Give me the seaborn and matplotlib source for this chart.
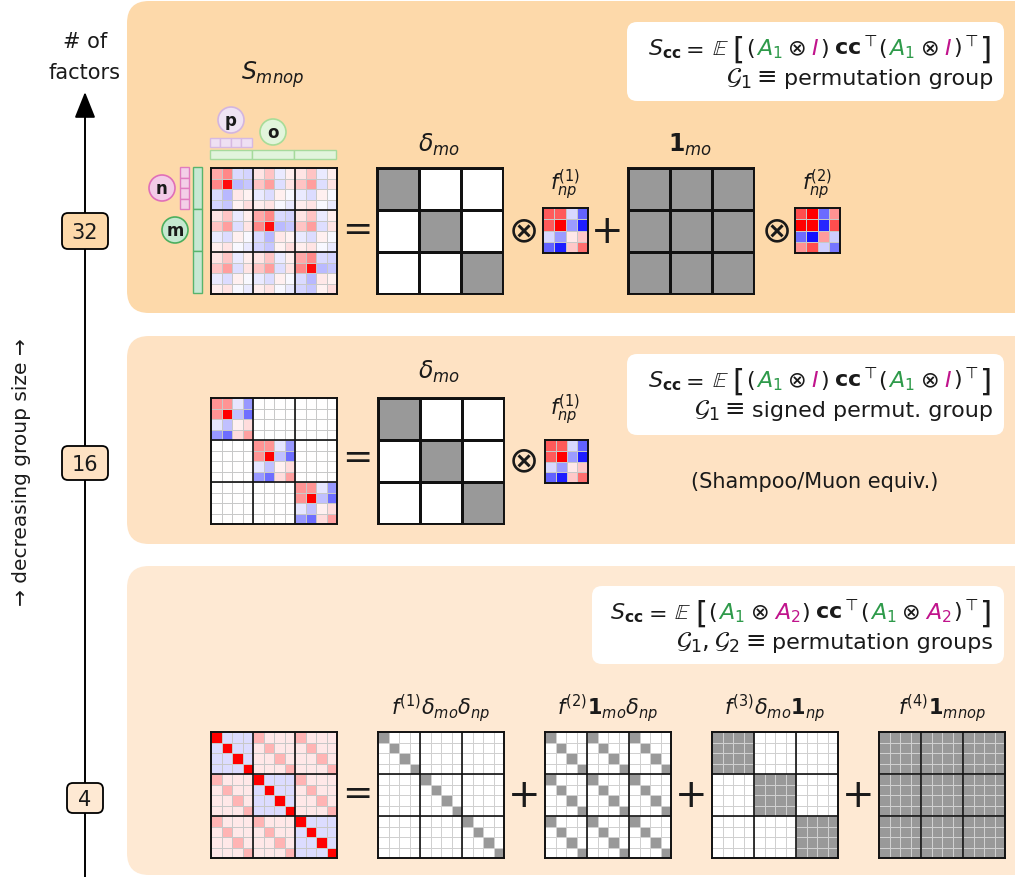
import numpy as np
import matplotlib
matplotlib.use("Agg")
import matplotlib.pyplot as plt
import seaborn as sns
from matplotlib.patches import FancyBboxPatch, Rectangle, Circle
from matplotlib.colors import ListedColormap

# ---- data -------------------------------------------------------------
delta_mo = [[1, 0, 0], [0, 1, 0], [0, 0, 1]]
ones_mo = [[1, 1, 1], [1, 1, 1], [1, 1, 1]]
delta_np = [[1, 0, 0, 0], [0, 1, 0, 0], [0, 0, 1, 0], [0, 0, 0, 1]]
ones_np = [[1, 1, 1, 1], [1, 1, 1, 1], [1, 1, 1, 1], [1, 1, 1, 1]]

# per-block factors f^(1)_np and f^(2)_np
f1_np = [[0.42, 0.42, -0.10, -0.40],
         [0.42, 1.00, -0.25, -0.57],
         [-0.10, -0.25, 0.06, 0.14],
         [-0.40, -0.57, 0.14, 0.37]]
f2_np = [[0.18, 0.40, -0.15, 0.11],
         [0.40, 0.66, -0.22, 0.18],
         [-0.15, -0.24, 0.10, -0.05],
         [0.11, 0.18, -0.05, -0.14]]

# scalar coefficients f^(1..4) of the 4-factor decomposition
f_coef = [0.94, 0.20, -0.23, 0.09]

factor_counts = ["32", "16", "4"]

# ---- figure -----------------------------------------------------------
sns.set_theme(style="white")
plt.rcParams["font.family"] = ["DejaVu Sans"]
plt.rcParams["mathtext.fontset"] = "dejavusans"

W, H = 1015, 878
fig = plt.figure(figsize=(W / 100, H / 100), dpi=100)
fig.patch.set_facecolor("white")
bg = fig.add_axes([0, 0, 1, 1])
bg.set_xlim(0, W)
bg.set_ylim(H, 0)
bg.axis("off")

INK = "#1a1a1a"
GREEN = "#2e9a4a"
MAG = "#c0148c"
P1, P2, P3 = "#fdd9aa", "#fee2c3", "#fee9d3"

# panels
for (y0, y1, c) in [(2, 314, P1), (337, 545, P2), (567, 876, P3)]:
    bg.add_patch(FancyBboxPatch((127, y0), 940, y1 - y0,
                                boxstyle="round,pad=0,rounding_size=22",
                                fc=c, ec="none", zorder=0))

# vertical axis with arrow
bg.annotate("", xy=(85, 93), xytext=(85, 885),
            arrowprops=dict(arrowstyle="-|>,head_length=1.0,head_width=0.4",
                            color="black", lw=1.4, shrinkA=0, shrinkB=0,
                            mutation_scale=16), zorder=2)
bg.text(85, 42, "# of", ha="center", va="center", fontsize=15, color=INK)
bg.text(85, 73, "factors", ha="center", va="center", fontsize=15, color=INK)
bg.text(22, 472, "→ decreasing group size →", rotation=90, ha="center",
        va="center", fontsize=14.5, color=INK)

for label, (x0, y0, w, h), c in zip(factor_counts,
                                     [(62, 214, 46, 36), (62, 447, 46, 34), (67, 784, 36, 30)],
                                     [P1, P2, P3]):
    bg.add_patch(FancyBboxPatch((x0, y0), w, h,
                                boxstyle="round,pad=0,rounding_size=6",
                                fc=c, ec="black", lw=1.3, zorder=3))
    bg.text(x0 + w / 2, y0 + h / 2 + 1, label, ha="center", va="center",
            fontsize=15, color=INK, zorder=4)


def mat_axes(x0, y0, w, h):
    return fig.add_axes([x0 / W, 1 - (y0 + h) / H, w / W, h / H])


def draw_matrix(x0, y0, size, data, cmap, vmin, vmax, grid="#c8c8c8",
                grid_lw=0.6, blocks=(), block_lw=1.2, border_lw=1.4):
    ax = mat_axes(x0, y0, size, size)
    sns.heatmap(np.asarray(data, dtype=float), ax=ax, cmap=cmap, vmin=vmin,
                vmax=vmax, cbar=False, linewidths=grid_lw, linecolor=grid,
                xticklabels=False, yticklabels=False)
    for k in blocks:
        ax.axhline(k, color="#111111", lw=block_lw)
        ax.axvline(k, color="#111111", lw=block_lw)
    for s in ax.spines.values():
        s.set_visible(True)
        s.set_color("#111111")
        s.set_linewidth(border_lw)
    return ax


GRAY = ListedColormap(["#ffffff", "#999999"])
I3, J3 = np.array(delta_mo), np.array(ones_mo)
I4, J4 = np.array(delta_np), np.array(ones_np)
F1, F2 = np.array(f1_np), np.array(f2_np)

# ---- panel 1: permutation group ----------------------------------------
S_top = np.kron(I3, F1) + np.kron(J3, F2)
draw_matrix(211, 169, 126, S_top, "bwr", -1.75, 1.75, blocks=(4, 8))
draw_matrix(377, 169, 126, delta_mo, GRAY, 0, 1, grid="#111111", grid_lw=0.9)
draw_matrix(628, 169, 126, ones_mo, GRAY, 0, 1, grid="#111111", grid_lw=0.9)
draw_matrix(543, 209, 45, F1, "bwr", -0.65, 0.65, grid_lw=0.6)
draw_matrix(795, 209, 45, F2, "bwr", -0.26, 0.26, grid_lw=0.6)

# index bars and circles
for i in range(4):
    bg.add_patch(Rectangle((210 + i * 10.5, 139), 10.5, 9, fc="#eee0f3", ec="#d6b9e2", lw=1))
    bg.add_patch(Rectangle((180, 168 + i * 10.5), 9, 10.5, fc="#f3cfe7", ec="#e07cbf", lw=1))
for i in range(3):
    bg.add_patch(Rectangle((210 + i * 42, 151), 42, 9, fc="#e1f4dc", ec="#a6da9c", lw=1))
    bg.add_patch(Rectangle((193, 168 + i * 42), 9, 42, fc="#c7e8d3", ec="#58b46c", lw=1))
for (cx, cy, t, fc, ec) in [(231, 121, "p", "#efe3f3", "#d3b5df"),
                            (273, 133, "o", "#e2f5dc", "#a8dc98"),
                            (162, 189, "n", "#f3cce7", "#e06fb8"),
                            (175, 231, "m", "#c5e8d0", "#4caf5e")]:
    bg.add_patch(Circle((cx, cy), 13, fc=fc, ec=ec, lw=1.2, zorder=3))
    bg.text(cx, cy, t, ha="center", va="center", fontsize=12,
            fontweight="bold", color=INK, zorder=4)

bg.text(273, 75, r"$S_{mnop}$", ha="center", va="center", fontsize=17, color=INK)
bg.text(439, 145, r"$\delta_{mo}$", ha="center", va="center", fontsize=17, color=INK)
bg.text(690, 145, r"$\mathbf{1}_{mo}$", ha="center", va="center", fontsize=17, color=INK)
bg.text(565, 185, r"$f^{(1)}_{np}$", ha="center", va="center", fontsize=15, color=INK)
bg.text(817, 185, r"$f^{(2)}_{np}$", ha="center", va="center", fontsize=15, color=INK)

SYM = dict(ha="center", va="center", color=INK)
bg.text(357, 230, "=", fontsize=26, **SYM)
bg.text(522, 232, r"$\otimes$", fontsize=26, **SYM)
bg.text(607, 232, "+", fontsize=28, **SYM)
bg.text(775, 232, r"$\otimes$", fontsize=26, **SYM)

# ---- panel 2: signed permutation group ---------------------------------
S_mid = np.kron(I3, F1)
draw_matrix(211, 399, 126, S_mid, "bwr", -1, 1, blocks=(4, 8))
draw_matrix(378, 399, 126, delta_mo, GRAY, 0, 1, grid="#111111", grid_lw=0.9)
draw_matrix(545, 441, 43, F1, "bwr", -0.65, 0.65, grid_lw=0.6)
bg.text(439, 372, r"$\delta_{mo}$", ha="center", va="center", fontsize=17, color=INK)
bg.text(565, 410, r"$f^{(1)}_{np}$", ha="center", va="center", fontsize=15, color=INK)
bg.text(357, 458, "=", fontsize=26, **SYM)
bg.text(522, 462, r"$\otimes$", fontsize=26, **SYM)
bg.text(815, 482, "(Shampoo/Muon equiv.)", ha="center", va="center",
        fontsize=15, color=INK)

# ---- panel 3: two permutation groups -----------------------------------
basis = [np.kron(I3, I4), np.kron(J3, I4), np.kron(I3, J4), np.kron(J3, J4)]
S_bot = sum(c * b for c, b in zip(f_coef, basis))
draw_matrix(211, 733, 126, S_bot, "bwr", -1, 1, blocks=(4, 8))
xs = [378, 545, 712, 879]
labels = [r"$f^{(1)}\delta_{mo}\delta_{np}$", r"$f^{(2)}\mathbf{1}_{mo}\delta_{np}$",
          r"$f^{(3)}\delta_{mo}\mathbf{1}_{np}$", r"$f^{(4)}\mathbf{1}_{mnop}$"]
for x0, b, lab in zip(xs, basis, labels):
    draw_matrix(x0, 733, 126, b, GRAY, 0, 1, grid="#d0d0d0", blocks=(4, 8))
    bg.text(x0 + 63, 708, lab, ha="center", va="center", fontsize=15, color=INK)
bg.text(357, 794, "=", fontsize=26, **SYM)
for x in [524, 691, 858]:
    bg.text(x, 796, "+", fontsize=28, **SYM)

# ---- formula boxes -----------------------------------------------------
renderer = fig.canvas.get_renderer()


def rich(x_right, y, pieces, size=16):
    """Lay out coloured text pieces left to right, right-aligned at x_right.

    Each piece: (text, colour, scale, dy, gap_before, gap_after)."""
    items, widths = [], []
    for p in pieces:
        s, c, scale, dy, g0, g1 = (list(p) + [1.0, 0.0, 0.0, 0.0][len(p) - 2:])[:6]
        t = bg.text(0, y + dy, s, color=c, fontsize=size * scale,
                    ha="left", va="baseline", zorder=6)
        w = t.get_window_extent(renderer=renderer).width
        items.append((t, g0))
        widths.append(g0 + w + g1)
    x = x_right - sum(widths)
    for (t, g0), w in zip(items, widths):
        t.set_x(x + g0)
        x += w


def formula(second, col):
    return [(r"$S_{\mathbf{cc}}$", INK, 1.0, 0, 0, 0),
            (r"$=$", INK, 1.0, 0, 0, 8),
            (r"$\mathbb{E}$", INK, 1.0, 0, 0, 4),
            ("[", INK, 1.4, 4, 0, 1),
            (r"$($", INK, 1.0, 0, 0, 1), (r"$A_1$", GREEN, 1.0, 0, 0, 0),
            (r"$\otimes$", INK, 1.0, 0, 5, 5),
            (second, col, 1.0, 0, 0, 1), (r"$)$", INK, 1.0, 0, 0, 5),
            (r"$\mathbf{cc}^{\top}$", INK, 1.0, 0, 0, 1),
            (r"$($", INK, 1.0, 0, 0, 1), (r"$A_1$", GREEN, 1.0, 0, 0, 0),
            (r"$\otimes$", INK, 1.0, 0, 5, 5), (second, col, 1.0, 0, 0, 1),
            (r"$)^{\top}$", INK, 1.0, 0, 0, 1), ("]", INK, 1.4, 4, 0, 0)]


for (bx0, by0, bx1, by1), second, col, line2 in [
        ((627, 23, 1004, 102), r"$I$", MAG, [r"$\mathcal{G}_1 \equiv$", "permutation group"]),
        ((627, 355, 1004, 436), r"$I$", MAG, [r"$\mathcal{G}_1 \equiv$", "signed permut. group"]),
        ((592, 587, 1004, 665), r"$A_2$", MAG, [r"$\mathcal{G}_1, \mathcal{G}_2 \equiv$", "permutation groups"])]:
    bg.add_patch(FancyBboxPatch((bx0, by0), bx1 - bx0, by1 - by0,
                                boxstyle="round,pad=0,rounding_size=10",
                                fc="white", ec="none", zorder=5))
    rich(992, by0 + 32, formula(second, col))
    rich(993, by0 + 62, [(line2[0], INK, 1.1, 0, 0, 7), (line2[1], INK, 1.0, 0, 0, 0)])

fig.savefig("out.png", dpi=100)
